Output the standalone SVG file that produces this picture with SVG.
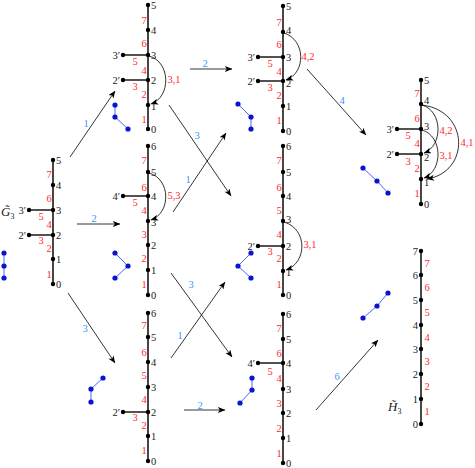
<svg xmlns="http://www.w3.org/2000/svg" width="475" height="468" viewBox="0 0 475 468">
<defs>
<marker id="ah" viewBox="0 0 10 8" refX="9.5" refY="4" markerWidth="8" markerHeight="6" orient="auto" markerUnits="userSpaceOnUse"><path d="M0,0 L10,4 L0,8 L2.5,4 Z" fill="#000"/></marker>
<style>
.e{stroke:#1a1a1a;stroke-width:1.6;fill:none}
.n{fill:#000}
.t{font-family:"Liberation Serif","DejaVu Serif",serif;font-size:10.5px;fill:#222}
.pr{text-anchor:end}
.rd{font-family:"Liberation Serif","DejaVu Serif",serif;font-size:10.5px;fill:#ff2a2a;text-anchor:middle}
.bl{font-family:"Liberation Serif","DejaVu Serif",serif;font-size:10.5px;fill:#3399ff;text-anchor:middle}
.ar{stroke:#000;stroke-width:0.8;fill:none;marker-end:url(#ah)}
.arc{stroke:#000;stroke-width:0.8;fill:none;marker-end:url(#ah)}
.bg{stroke:#4a66ff;stroke-width:1;fill:none}
.bn{fill:#0a14d0}
.tt{font-family:"Liberation Serif","DejaVu Serif",serif;font-style:italic;font-size:13px;fill:#222}
</style>
</defs>

<!-- Tree G3 -->
<g id="treeG">
<path class="e" d="M53,160V284M29,210H53M29,235H53"/>
<g class="n"><circle cx="53" cy="160" r="2.2"/><circle cx="53" cy="185" r="2.2"/><circle cx="53" cy="210" r="2.2"/><circle cx="53" cy="235" r="2.2"/><circle cx="53" cy="259" r="2.2"/><circle cx="53" cy="284" r="2.2"/><circle cx="29" cy="210" r="2.2"/><circle cx="29" cy="235" r="2.2"/></g>
<g class="t"><text x="56" y="163.5">5</text><text x="56" y="188.5">4</text><text x="56" y="213.5">3</text><text x="56" y="238.5">2</text><text x="56" y="262.5">1</text><text x="56" y="287.5">0</text><text class="pr" x="26" y="213.5">3′</text><text class="pr" x="26" y="238.5">2′</text></g>
<g class="rd"><text x="49" y="177.5">7</text><text x="49" y="201.5">6</text><text x="41" y="219.5">5</text><text x="49" y="227.5">4</text><text x="41" y="243.5">3</text><text x="49" y="251.5">2</text><text x="49" y="277.5">1</text></g>
<text class="tt" x="1" y="216">G̃<tspan font-size="8" font-style="normal" dy="2.5">3</tspan></text>
<path class="bg" d="M4,253V278"/>
<g class="bn"><circle cx="4" cy="253" r="2.6"/><circle cx="4" cy="266" r="2.6"/><circle cx="4" cy="278" r="2.6"/></g>
</g>

<!-- Tree T1 -->
<g id="treeT1">
<path class="e" d="M148,5V129M123,55H148M123,80H148"/>
<g class="n"><circle cx="148" cy="5" r="2.2"/><circle cx="148" cy="30" r="2.2"/><circle cx="148" cy="55" r="2.2"/><circle cx="148" cy="80" r="2.2"/><circle cx="148" cy="105" r="2.2"/><circle cx="148" cy="129" r="2.2"/><circle cx="123" cy="55" r="2.2"/><circle cx="123" cy="80" r="2.2"/></g>
<g class="t"><text x="151" y="8.5">5</text><text x="151" y="33.5">4</text><text x="151" y="58.5">3</text><text x="151" y="83.5">2</text><text x="151" y="110">1</text><text x="151" y="132.5">0</text><text class="pr" x="120" y="58.5">3′</text><text class="pr" x="120" y="83.5">2′</text></g>
<g class="rd"><text x="144" y="23.5">7</text><text x="144" y="46.5">6</text><text x="135" y="64.5">5</text><text x="144" y="73.5">4</text><text x="135" y="89.5">3</text><text x="144" y="97.5">2</text><text x="144" y="122.5">1</text><text x="174" y="82.5">3,1</text></g>
<path class="arc" d="M149,56C171,62 171,97 151,104"/>
<path class="bg" d="M115,105V117L128,129"/>
<g class="bn"><circle cx="115" cy="105" r="2.6"/><circle cx="115" cy="117" r="2.6"/><circle cx="128" cy="129" r="2.6"/></g>
</g>

<!-- Tree M1 -->
<g id="treeM1">
<path class="e" d="M148,146V295M123,196H148"/>
<g class="n"><circle cx="148" cy="146" r="2.2"/><circle cx="148" cy="172" r="2.2"/><circle cx="148" cy="196" r="2.2"/><circle cx="148" cy="221" r="2.2"/><circle cx="148" cy="245" r="2.2"/><circle cx="148" cy="270" r="2.2"/><circle cx="148" cy="295" r="2.2"/><circle cx="123" cy="196" r="2.2"/></g>
<g class="t"><text x="151" y="149.5">6</text><text x="151" y="175.5">5</text><text x="151" y="199.5">4</text><text x="151" y="226">3</text><text x="151" y="248.5">2</text><text x="151" y="273.5">1</text><text x="151" y="298.5">0</text><text class="pr" x="120" y="199.5">4′</text></g>
<g class="rd"><text x="144" y="163.5">7</text><text x="144" y="190.5">6</text><text x="135" y="205.5">5</text><text x="144" y="213.5">4</text><text x="144" y="237.5">3</text><text x="144" y="261.5">2</text><text x="144" y="287.5">1</text><text x="174" y="198.5">5,3</text></g>
<path class="arc" d="M149,173C171,179 171,213 151,220"/>
<path class="bg" d="M115,253L128,266L115,278"/>
<g class="bn"><circle cx="115" cy="253" r="2.6"/><circle cx="128" cy="266" r="2.6"/><circle cx="115" cy="278" r="2.6"/></g>
</g>

<!-- Tree B1 -->
<g id="treeB1">
<path class="e" d="M148,313V461M123,412H148"/>
<g class="n"><circle cx="148" cy="313" r="2.2"/><circle cx="148" cy="337" r="2.2"/><circle cx="148" cy="362" r="2.2"/><circle cx="148" cy="387" r="2.2"/><circle cx="148" cy="412" r="2.2"/><circle cx="148" cy="436" r="2.2"/><circle cx="148" cy="461" r="2.2"/><circle cx="123" cy="412" r="2.2"/></g>
<g class="t"><text x="151" y="316.5">6</text><text x="151" y="340.5">5</text><text x="151" y="365.5">4</text><text x="151" y="390.5">3</text><text x="151" y="415.5">2</text><text x="151" y="439.5">1</text><text x="151" y="464.5">0</text><text class="pr" x="120" y="415.5">2′</text></g>
<g class="rd"><text x="144" y="328.5">7</text><text x="144" y="355.5">6</text><text x="144" y="378.5">5</text><text x="144" y="402.5">4</text><text x="135" y="420.5">3</text><text x="144" y="428.5">2</text><text x="144" y="453.5">1</text></g>
<path class="bg" d="M103,378L91,389V402"/>
<g class="bn"><circle cx="103" cy="378" r="2.6"/><circle cx="91" cy="389" r="2.6"/><circle cx="91" cy="402" r="2.6"/></g>
</g>

<!-- Tree T2 -->
<g id="treeT2">
<path class="e" d="M283,6V131M258,57H283M258,81H283"/>
<g class="n"><circle cx="283" cy="6" r="2.2"/><circle cx="283" cy="32" r="2.2"/><circle cx="283" cy="57" r="2.2"/><circle cx="283" cy="81" r="2.2"/><circle cx="283" cy="106" r="2.2"/><circle cx="283" cy="131" r="2.2"/><circle cx="258" cy="57" r="2.2"/><circle cx="258" cy="81" r="2.2"/></g>
<g class="t"><text x="286" y="9.5">5</text><text x="286" y="34">4</text><text x="286" y="60.5">3</text><text x="286" y="87">2</text><text x="286" y="109.5">1</text><text x="286" y="134.5">0</text><text class="pr" x="255" y="60.5">3′</text><text class="pr" x="255" y="84.5">2′</text></g>
<g class="rd"><text x="279" y="25.5">7</text><text x="279" y="47.5">6</text><text x="270" y="66.5">5</text><text x="279" y="74.5">4</text><text x="270" y="90.5">3</text><text x="279" y="98.5">2</text><text x="279" y="123.5">1</text><text x="308" y="59.5">4,2</text></g>
<path class="arc" d="M284,33C306,40 306,73 286,80"/>
<path class="bg" d="M238,104L251,117V129"/>
<g class="bn"><circle cx="238" cy="104" r="2.6"/><circle cx="251" cy="117" r="2.6"/><circle cx="251" cy="129" r="2.6"/></g>
</g>

<!-- Tree M2 -->
<g id="treeM2">
<path class="e" d="M283,146V295M258,246H283"/>
<g class="n"><circle cx="283" cy="146" r="2.2"/><circle cx="283" cy="172" r="2.2"/><circle cx="283" cy="196" r="2.2"/><circle cx="283" cy="221" r="2.2"/><circle cx="283" cy="246" r="2.2"/><circle cx="283" cy="271" r="2.2"/><circle cx="283" cy="295" r="2.2"/><circle cx="258" cy="246" r="2.2"/></g>
<g class="t"><text x="286" y="149.5">6</text><text x="286" y="175.5">5</text><text x="286" y="199.5">4</text><text x="286" y="223">3</text><text x="286" y="249.5">2</text><text x="286" y="276">1</text><text x="286" y="298.5">0</text><text class="pr" x="255" y="249.5">2′</text></g>
<g class="rd"><text x="279" y="163.5">7</text><text x="279" y="190.5">6</text><text x="279" y="213.5">5</text><text x="279" y="237.5">4</text><text x="270" y="254.5">3</text><text x="279" y="261.5">2</text><text x="279" y="287.5">1</text><text x="310" y="247.5">3,1</text></g>
<path class="arc" d="M284,222C308,229 307,263 286,270"/>
<path class="bg" d="M251,253L238,266L251,278"/>
<g class="bn"><circle cx="251" cy="253" r="2.6"/><circle cx="238" cy="266" r="2.6"/><circle cx="251" cy="278" r="2.6"/></g>
</g>

<!-- Tree B2 -->
<g id="treeB2">
<path class="e" d="M283,314V463M258,363H283"/>
<g class="n"><circle cx="283" cy="314" r="2.2"/><circle cx="283" cy="339" r="2.2"/><circle cx="283" cy="363" r="2.2"/><circle cx="283" cy="389" r="2.2"/><circle cx="283" cy="413" r="2.2"/><circle cx="283" cy="438" r="2.2"/><circle cx="283" cy="463" r="2.2"/><circle cx="258" cy="363" r="2.2"/></g>
<g class="t"><text x="286" y="317.5">6</text><text x="286" y="342.5">5</text><text x="286" y="366.5">4</text><text x="286" y="392.5">3</text><text x="286" y="416.5">2</text><text x="286" y="441.5">1</text><text x="286" y="466.5">0</text><text class="pr" x="255" y="366.5">4′</text></g>
<g class="rd"><text x="279" y="331.5">7</text><text x="279" y="356.5">6</text><text x="270" y="374.5">5</text><text x="279" y="381.5">4</text><text x="279" y="406.5">3</text><text x="279" y="431.5">2</text><text x="279" y="456.5">1</text></g>
<path class="bg" d="M252,378V390L240,403"/>
<g class="bn"><circle cx="252" cy="378" r="2.6"/><circle cx="252" cy="390" r="2.6"/><circle cx="240" cy="403" r="2.6"/></g>
</g>

<!-- Tree T3 -->
<g id="treeT3">
<path class="e" d="M421,80V204M397,129H421M397,154H421"/>
<g class="n"><circle cx="421" cy="80" r="2.2"/><circle cx="421" cy="104" r="2.2"/><circle cx="421" cy="129" r="2.2"/><circle cx="421" cy="154" r="2.2"/><circle cx="421" cy="179" r="2.2"/><circle cx="421" cy="204" r="2.2"/><circle cx="397" cy="129" r="2.2"/><circle cx="397" cy="154" r="2.2"/></g>
<g class="t"><text x="424" y="83.5">5</text><text x="424" y="104">4</text><text x="424" y="130">3</text><text x="424" y="161">2</text><text x="424" y="186">1</text><text x="424" y="207.5">0</text><text class="pr" x="394" y="132.5">3′</text><text class="pr" x="394" y="157.5">2′</text></g>
<g class="rd"><text x="417" y="96.5">7</text><text x="417" y="121.5">6</text><text x="408" y="138.5">5</text><text x="417" y="146.5">4</text><text x="408" y="164.5">3</text><text x="417" y="171.5">2</text><text x="417" y="196.5">1</text><text x="446" y="133.5">4,2</text><text x="446" y="158.5">3,1</text><text x="467" y="145.5">4,1</text></g>
<path class="arc" d="M422,105C443,111 443,146 424,153"/>
<path class="arc" d="M422,130C443,136 443,171 424,178"/>
<path class="arc" d="M422,105C470,111 470,172 427,179"/>
<path class="bg" d="M363,168L377,181L388,193"/>
<g class="bn"><circle cx="363" cy="168" r="2.6"/><circle cx="377" cy="181" r="2.6"/><circle cx="388" cy="193" r="2.6"/></g>
</g>

<!-- Tree H3 -->
<g id="treeH3">
<path class="e" d="M421,251V424"/>
<g class="n"><circle cx="421" cy="251" r="2.2"/><circle cx="421" cy="275" r="2.2"/><circle cx="421" cy="300" r="2.2"/><circle cx="421" cy="325" r="2.2"/><circle cx="421" cy="349" r="2.2"/><circle cx="421" cy="374" r="2.2"/><circle cx="421" cy="399" r="2.2"/><circle cx="421" cy="424" r="2.2"/></g>
<g class="t pr"><text class="pr" x="418" y="254.5">7</text><text class="pr" x="418" y="278.5">6</text><text class="pr" x="418" y="303.5">5</text><text class="pr" x="418" y="328.5">4</text><text class="pr" x="418" y="352.5">3</text><text class="pr" x="418" y="377.5">2</text><text class="pr" x="418" y="402.5">1</text><text class="pr" x="418" y="427.5">0</text></g>
<g class="rd"><text x="427" y="266.5">7</text><text x="427" y="290.5">6</text><text x="427" y="315.5">5</text><text x="427" y="340.5">4</text><text x="427" y="364.5">3</text><text x="427" y="389.5">2</text><text x="427" y="414.5">1</text></g>
<text class="tt" x="388" y="411">H̃<tspan font-size="8" font-style="normal" dy="2.5">3</tspan></text>
<path class="bg" d="M363,318L377,306L388,293"/>
<g class="bn"><circle cx="363" cy="318" r="2.6"/><circle cx="377" cy="306" r="2.6"/><circle cx="388" cy="293" r="2.6"/></g>
</g>

<!-- Connectors -->
<g id="connectors">
<path class="ar" d="M70,157L115,91"/>
<path class="ar" d="M77,224L120,224"/>
<path class="ar" d="M68,293L115,363"/>
<path class="ar" d="M190,69L232,69"/>
<path class="ar" d="M169,105L231,196"/>
<path class="ar" d="M173,212L226,133"/>
<path class="ar" d="M171,273L232,357"/>
<path class="ar" d="M171,358L225,282"/>
<path class="ar" d="M184,410L225,410"/>
<path class="ar" d="M307,69L366,135"/>
<path class="ar" d="M316,410L378,340"/>
<g class="bl"><text x="86" y="127">1</text><text x="94" y="222">2</text><text x="85" y="332">3</text><text x="205" y="67">2</text><text x="197" y="139">3</text><text x="188" y="183">1</text><text x="191" y="288">3</text><text x="180" y="339">1</text><text x="200" y="409">2</text><text x="342" y="104">4</text><text x="337" y="380">6</text></g>
</g>
</svg>
